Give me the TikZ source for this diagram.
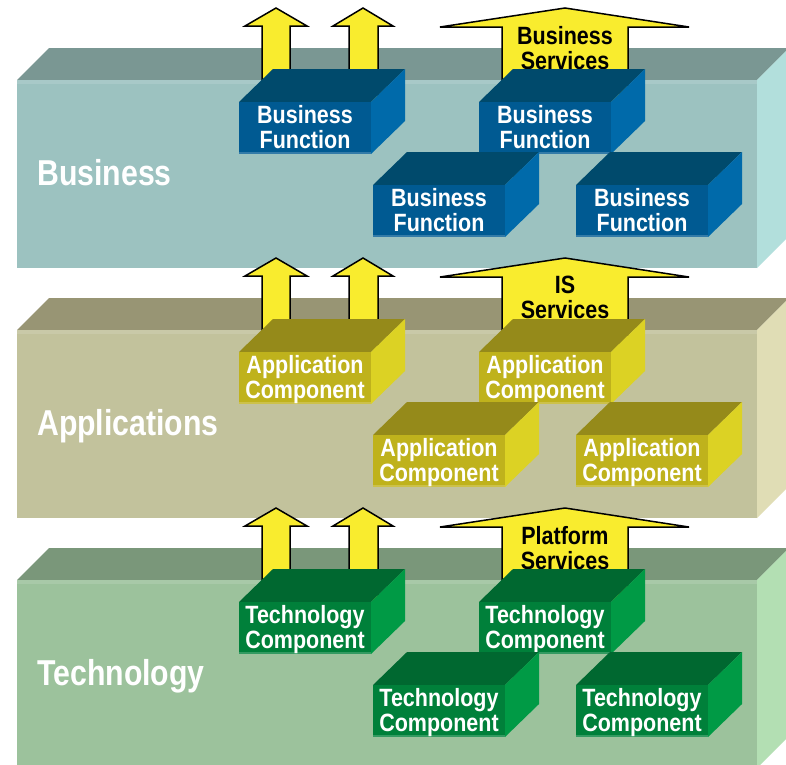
\documentclass[tikz,border=0pt]{standalone}
\usepackage{fontspec}
\newfontfamily\cond[FakeStretch=0.86]{Liberation Sans}
\newfontfamily\condl[FakeStretch=0.84]{Liberation Sans}
\definecolor{bsfront}{HTML}{9CC2C0}
\definecolor{bstop}{HTML}{7A9793}
\definecolor{bsside}{HTML}{B2DFDC}
\definecolor{asfront}{HTML}{C2C29C}
\definecolor{astop}{HTML}{989574}
\definecolor{asside}{HTML}{E0DDB5}
\definecolor{tsfront}{HTML}{9CC29C}
\definecolor{tstop}{HTML}{7A977A}
\definecolor{tsside}{HTML}{B3DFB3}
\definecolor{bfront}{HTML}{005A92}
\definecolor{btop}{HTML}{004A6C}
\definecolor{bside}{HTML}{006AAA}
\definecolor{afront}{HTML}{BFB21C}
\definecolor{atop}{HTML}{958A1A}
\definecolor{aside}{HTML}{DCD224}
\definecolor{tfront}{HTML}{00803A}
\definecolor{ttop}{HTML}{006830}
\definecolor{tside}{HTML}{009A45}
\definecolor{arrowyellow}{HTML}{F9EC2E}
\tikzset{
  boxtext/.style={anchor=north, inner sep=0pt, align=center, text=white,
    font=\cond\bfseries\fontsize{25}{25}\selectfont},
  servtext/.style={anchor=north, inner sep=0pt, align=center, text=black,
    font=\cond\bfseries\fontsize{25}{25}\selectfont},
  layertext/.style={anchor=base west, inner sep=0pt, text=white,
    font=\condl\bfseries\fontsize{36}{36}\selectfont},
  uparrow/.style={fill=arrowyellow, draw=black, line width=1.5pt, line join=miter}
}
% #1 name, #2 x, #3 y (front top-left), #4 colour prefix, #5 text
\newcommand\cubebox[5]{%
  \fill[#4top] (#2,#3) -- ++(34,-33) -- ++(132,0) -- ++(-34,33) -- cycle;
  \fill[#4side] (#2+132,#3) -- ++(34,-33) -- ++(0,52) -- ++(-34,33) -- cycle;
  \fill[#4front] (#2,#3) rectangle ++(132,52);
  \fill[#4front!80!white] (#2,#3+50) rectangle ++(132,2);
  \node[boxtext] (#1) at (#2+66,#3+3) {#5};
}
% #1 prefix, #2 slab colour prefix, #3 box colour prefix, #4 label, #5 box text, #6 service text
\newcommand\layerslab[6]{%
  \fill[#2top] (17,80) -- (49,48) -- (789,48) -- (757,80) -- cycle;
  \fill[#2front] (17,80) rectangle (757,268);
  \fill[#2front!88!white] (17,80) rectangle (757,84);
  \fill[#2side] (757,80) -- (789,48) -- (789,236) -- (757,268) -- cycle;
  \node[layertext] (#1label) at (37,185) {#4};
  \draw[uparrow] (262,100) -- (262,26) -- (245,26) -- (276,8) -- (307,26) -- (290,26) -- (290,100);
  \draw[uparrow] (349,100) -- (349,26) -- (333,26) -- (363,8) -- (393,26) -- (378,26) -- (378,100);
  \draw[uparrow] (502,100) -- (502,27) -- (440,27) -- (565,8) -- (689,27) -- (628,27) -- (628,100);
  \node[servtext] (#1serv) at (565,26) {#6};
  \cubebox{#1f1}{239}{102}{#3}{#5}
  \cubebox{#1f2}{479}{102}{#3}{#5}
  \cubebox{#1f3}{373}{185}{#3}{#5}
  \cubebox{#1f4}{576}{185}{#3}{#5}
}
\begin{document}
\begin{tikzpicture}[x=1pt,y=-1pt]
\useasboundingbox (0,0) rectangle (786,764);
\clip (0,0) rectangle (786,764);
\fill[white] (0,0) rectangle (786,764);
\layerslab{bus}{bs}{b}{Business}{Business\\Function}{Business\\Services}
\begin{scope}[shift={(0,250)}]
  \layerslab{app}{as}{a}{Applications}{Application\\Component}{IS\\Services}
\end{scope}
\begin{scope}[shift={(0,500)}]
  \layerslab{tec}{ts}{t}{Technology}{Technology\\Component}{Platform\\Services}
\end{scope}
\end{tikzpicture}
\end{document}
